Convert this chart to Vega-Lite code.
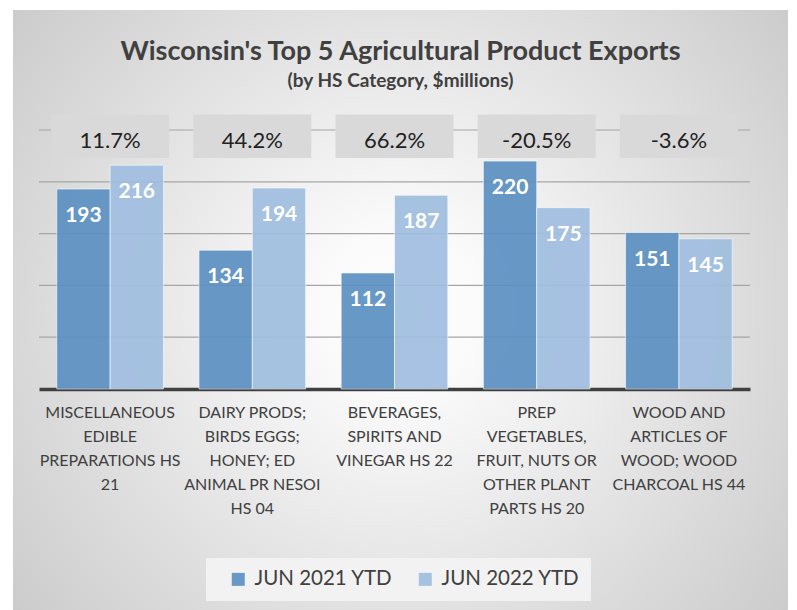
{
  "$schema": "https://vega.github.io/schema/vega-lite/v6.json",
  "width": 775,
  "height": 600,
  "autosize": {"type": "none"},
  "padding": {"left": 13, "top": 10, "right": 9, "bottom": 0},
  "background": "white",
  "config": {
    "font": "Lato",
    "view": {
      "stroke": null,
      "fill": {
        "gradient": "radial",
        "x1": 0.5, "y1": 0.5, "x2": 0.5, "y2": 0.5, "r1": 0, "r2": 0.72,
        "stops": [
          {"offset": 0, "color": "#FFFFFF"},
          {"offset": 0.15, "color": "#FAFAFA"},
          {"offset": 1, "color": "#C4C4C4"}
        ]
      }
    }
  },
  "title": {
    "text": "Wisconsin's Top 5 Agricultural Product Exports",
    "subtitle": "(by HS Category, $millions)",
    "anchor": "middle",
    "frame": "group",
    "offset": -82,
    "font": "Lato",
    "fontSize": 27,
    "fontWeight": "bold",
    "color": "#404040",
    "subtitleFont": "Lato",
    "subtitleFontSize": 19,
    "subtitleFontWeight": "bold",
    "subtitleColor": "#404040",
    "subtitlePadding": 6
  },
  "datasets": {
    "bars": [
      {"cat": "MISCELLANEOUS|EDIBLE|PREPARATIONS HS|21", "series": "JUN 2021 YTD", "value": 193},
      {"cat": "MISCELLANEOUS|EDIBLE|PREPARATIONS HS|21", "series": "JUN 2022 YTD", "value": 216},
      {"cat": "DAIRY PRODS;|BIRDS EGGS;|HONEY; ED|ANIMAL PR NESOI|HS 04", "series": "JUN 2021 YTD", "value": 134},
      {"cat": "DAIRY PRODS;|BIRDS EGGS;|HONEY; ED|ANIMAL PR NESOI|HS 04", "series": "JUN 2022 YTD", "value": 194},
      {"cat": "BEVERAGES,|SPIRITS AND|VINEGAR HS 22", "series": "JUN 2021 YTD", "value": 112},
      {"cat": "BEVERAGES,|SPIRITS AND|VINEGAR HS 22", "series": "JUN 2022 YTD", "value": 187},
      {"cat": "PREP|VEGETABLES,|FRUIT, NUTS OR|OTHER PLANT|PARTS HS 20", "series": "JUN 2021 YTD", "value": 220},
      {"cat": "PREP|VEGETABLES,|FRUIT, NUTS OR|OTHER PLANT|PARTS HS 20", "series": "JUN 2022 YTD", "value": 175},
      {"cat": "WOOD AND|ARTICLES OF|WOOD; WOOD|CHARCOAL HS 44", "series": "JUN 2021 YTD", "value": 151},
      {"cat": "WOOD AND|ARTICLES OF|WOOD; WOOD|CHARCOAL HS 44", "series": "JUN 2022 YTD", "value": 145}
    ],
    "groups": [
      {"cat": "MISCELLANEOUS|EDIBLE|PREPARATIONS HS|21", "pct": "11.7%"},
      {"cat": "DAIRY PRODS;|BIRDS EGGS;|HONEY; ED|ANIMAL PR NESOI|HS 04", "pct": "44.2%"},
      {"cat": "BEVERAGES,|SPIRITS AND|VINEGAR HS 22", "pct": "66.2%"},
      {"cat": "PREP|VEGETABLES,|FRUIT, NUTS OR|OTHER PLANT|PARTS HS 20", "pct": "-20.5%"},
      {"cat": "WOOD AND|ARTICLES OF|WOOD; WOOD|CHARCOAL HS 44", "pct": "-3.6%"}
    ],
    "grid": [{"v": 50}, {"v": 100}, {"v": 150}, {"v": 200}, {"v": 250}]
  },
  "resolve": {"scale": {"x": "independent"}},
  "layer": [
    {
      "data": {"name": "grid"},
      "mark": {"type": "rule", "color": "#A6A6A6", "strokeWidth": 1.2},
      "encoding": {
        "y": {"field": "v", "type": "quantitative", "scale": {"domain": [0, 250], "range": [379, 120], "nice": false, "zero": true}, "axis": null},
        "x": {"datum": 0, "type": "quantitative", "scale": {"domain": [0, 1], "range": [26, 737]}, "axis": null},
        "x2": {"datum": 1}
      }
    },
    {
      "layer": [
        {
          "data": {"name": "bars"},
          "mark": {"type": "bar", "opacity": 0.92, "stroke": "#FFFFFF", "strokeOpacity": 0.6, "strokeWidth": 1},
          "encoding": {
            "x": {
              "field": "cat", "type": "nominal", "sort": null,
              "scale": {"range": [26, 737], "paddingInner": 0.25, "paddingOuter": 0.125},
              "axis": {
                "title": null, "orient": "bottom", "offset": -221,
                "labelAngle": 0, "labelExpr": "split(datum.label, '|')",
                "labelFont": "Lato", "labelFontSize": 16, "labelColor": "#404040",
                "labelLineHeight": 24, "labelBaseline": "top", "labelPadding": 15,
                "labelLimit": 200,
                "ticks": false, "domainColor": "#404040", "domainWidth": 3.5, "grid": false
              }
            },
            "xOffset": {"field": "series", "type": "nominal", "scale": {"paddingInner": 0, "paddingOuter": 0}},
            "y": {"field": "value", "type": "quantitative", "scale": {"domain": [0, 250], "range": [379, 120], "nice": false}, "axis": null},
            "color": {
              "field": "series", "type": "nominal",
              "scale": {"domain": ["JUN 2021 YTD", "JUN 2022 YTD"], "range": ["#5B90C2", "#A0BEE0"]},
              "legend": {
                "title": null, "orient": "none", "direction": "horizontal",
                "legendX": 193, "legendY": 548,
                "fillColor": "#F2F2F2", "padding": 11, "symbolOffset": 11,
                "symbolType": "square", "symbolSize": 169, "symbolStrokeWidth": 0,
                "symbolOpacity": 0.92,
                "labelFont": "Lato", "labelFontSize": 20.5, "labelColor": "#404040",
                "labelOffset": 6, "columnPadding": 11, "labelLimit": 300
              }
            }
          }
        },
        {
          "data": {"name": "bars"},
          "mark": {"type": "text", "color": "#FFFFFF", "font": "Lato", "fontSize": 21, "fontWeight": "bold", "baseline": "middle", "dy": 27},
          "encoding": {
            "x": {"field": "cat", "type": "nominal", "sort": null},
            "xOffset": {"field": "series", "type": "nominal"},
            "y": {"field": "value", "type": "quantitative"},
            "text": {"field": "value", "type": "quantitative"}
          }
        },
        {
          "data": {"name": "groups"},
          "mark": {"type": "bar", "color": "#D9D9D9", "width": 118},
          "encoding": {
            "x": {"field": "cat", "type": "nominal", "sort": null},
            "y": {"datum": 223, "type": "quantitative"},
            "y2": {"datum": 265}
          }
        },
        {
          "data": {"name": "groups"},
          "mark": {"type": "text", "color": "#222222", "font": "Lato", "fontSize": 22, "baseline": "middle"},
          "encoding": {
            "x": {"field": "cat", "type": "nominal", "sort": null},
            "y": {"datum": 239.5, "type": "quantitative"},
            "text": {"field": "pct", "type": "nominal"}
          }
        }
      ]
    }
  ]
}
